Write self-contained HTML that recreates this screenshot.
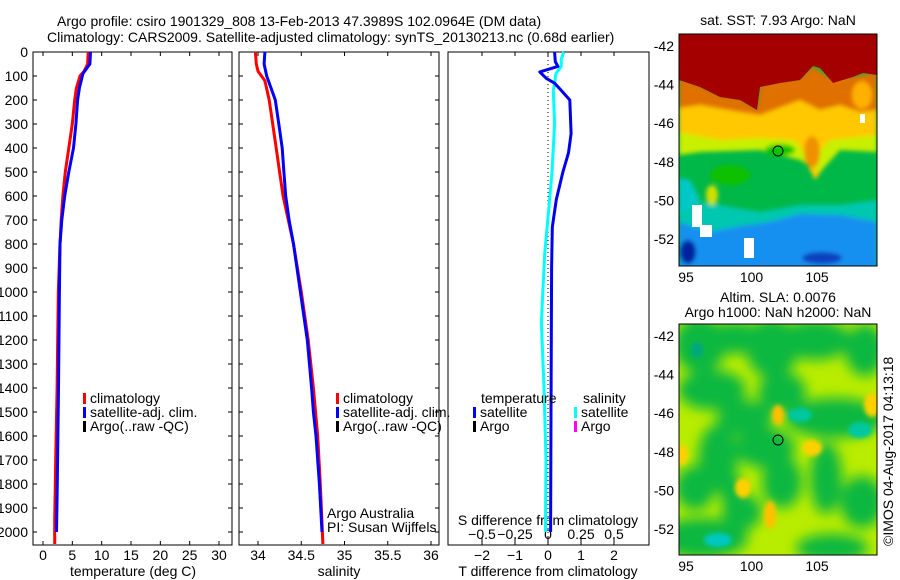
<!DOCTYPE html>
<html><head><meta charset="utf-8">
<style>
html,body{margin:0;padding:0;background:#fff;}
svg{display:block;font-family:"Liberation Sans",sans-serif;}
text{font-size:14px;fill:#000;}
</style></head>
<body>
<svg id="fig" width="900" height="580" viewBox="0 0 900 580">
<defs>
<filter id="blur2" x="-5%" y="-5%" width="110%" height="110%"><feGaussianBlur stdDeviation="2"/></filter>
<filter id="blur6" x="-10%" y="-10%" width="120%" height="120%"><feGaussianBlur stdDeviation="6"/></filter>
<clipPath id="c1"><rect x="679" y="34" width="198" height="232"/></clipPath>
<clipPath id="c2"><rect x="679" y="324" width="198" height="231"/></clipPath>
</defs>
<text x="57" y="26">Argo profile: csiro 1901329_808 13-Feb-2013 47.3989S 102.0964E (DM data)</text>
<text x="47" y="42">Climatology: CARS2009. Satellite-adjusted climatology: synTS_20130213.nc (0.68d earlier)</text>
<g id="axes"></g>
<g id="series"></g>

<!-- SST map -->
<g clip-path="url(#c1)">
<rect x="679" y="34" width="198" height="232" fill="#00b848"/>
<g filter="url(#blur2)">
<polygon points="679,200 720,205 760,212 800,205 840,205 877,200 877,270 679,270" fill="#00c8b0"/>
<polygon points="679,178 690,180 700,200 679,215" fill="#00c8c8"/>
<polygon points="679,222 710,232 740,226 770,222 800,214 840,215 877,222 877,270 679,270" fill="#1890f0"/>
<ellipse cx="688" cy="252" rx="8" ry="12" fill="#0020a0"/>
<ellipse cx="822" cy="258" rx="20" ry="6" fill="#1040c0"/>
<polygon points="679,80 757,110 800,80 877,75 877,145 840,145 815,180 800,150 760,145 720,150 679,150" fill="#ffc800"/>
<polygon points="679,132 720,140 760,138 795,140 810,160 830,140 877,135 877,152 840,150 820,172 800,160 760,150 700,152 679,155" fill="#c8f000"/>
<polygon points="679,78 700,85 720,95 740,98 757,108 760,85 780,80 800,78 813,66 833,80 877,72 877,110 860,112 840,105 820,110 800,100 760,115 740,112 700,105 679,108" fill="#e07000"/>
<ellipse cx="812" cy="152" rx="8" ry="16" fill="#f09000"/>
<ellipse cx="862" cy="95" rx="10" ry="14" fill="#ffb000"/>
<ellipse cx="712" cy="195" rx="6" ry="10" fill="#d0e000"/>
<ellipse cx="730" cy="175" rx="20" ry="10" fill="#10c000"/>
<ellipse cx="780" cy="150" rx="15" ry="6" fill="#00c800"/>
</g>
<polygon points="679,34 877,34 877,75 863,73 853,77 833,83 820,68 813,66 800,80 780,83 760,87 757,110 740,100 720,97 700,87 679,80" fill="#a50000"/>
<rect x="692" y="205" width="10" height="22" fill="#fff"/>
<rect x="700" y="225" width="12" height="12" fill="#fff"/>
<rect x="744" y="238" width="10" height="20" fill="#fff"/>
<rect x="860" y="114" width="5" height="9" fill="#fff"/>
<circle cx="778" cy="151" r="5" fill="none" stroke="#000"/>
</g>
<rect x="679" y="34" width="198" height="232" fill="none" stroke="#000"/>
<text x="778" y="25" text-anchor="middle">sat. SST: 7.93 Argo: NaN</text>

<!-- SLA map -->
<g clip-path="url(#c2)">
<rect x="679" y="324" width="198" height="231" fill="#b8ec00"/>
<g filter="url(#blur6)" fill="#10b840">
<ellipse cx="700" cy="345" rx="26" ry="28"/><ellipse cx="735" cy="338" rx="30" ry="16"/>
<ellipse cx="772" cy="348" rx="26" ry="30"/><ellipse cx="815" cy="340" rx="36" ry="20"/>
<ellipse cx="865" cy="350" rx="20" ry="26"/><ellipse cx="712" cy="390" rx="34" ry="20"/>
<ellipse cx="745" cy="418" rx="28" ry="18"/><ellipse cx="782" cy="392" rx="24" ry="20"/>
<ellipse cx="835" cy="418" rx="50" ry="20"/><ellipse cx="765" cy="448" rx="30" ry="20"/>
<ellipse cx="718" cy="458" rx="20" ry="34"/><ellipse cx="695" cy="488" rx="20" ry="22"/>
<ellipse cx="782" cy="482" rx="20" ry="26"/><ellipse cx="826" cy="478" rx="16" ry="36"/>
<ellipse cx="862" cy="502" rx="22" ry="26"/><ellipse cx="742" cy="512" rx="20" ry="18"/>
<ellipse cx="702" cy="538" rx="46" ry="20"/><ellipse cx="832" cy="548" rx="36" ry="14"/>
<ellipse cx="732" cy="492" rx="12" ry="18"/>
</g>
<g filter="url(#blur2)">
<ellipse cx="800" cy="415" rx="12" ry="7" fill="#00c8a0"/><ellipse cx="860" cy="430" rx="12" ry="8" fill="#00c8a0"/>
<ellipse cx="718" cy="540" rx="14" ry="7" fill="#00c8c0"/><ellipse cx="697" cy="350" rx="6" ry="8" fill="#00a880"/>
<ellipse cx="778" cy="415" rx="6" ry="10" fill="#ffc000"/><ellipse cx="743" cy="488" rx="8" ry="10" fill="#ffd000"/>
<ellipse cx="770" cy="515" rx="6" ry="14" fill="#ffc000"/><ellipse cx="812" cy="448" rx="10" ry="8" fill="#ffd000"/>
<ellipse cx="872" cy="405" rx="8" ry="12" fill="#ffd000"/><ellipse cx="682" cy="455" rx="6" ry="10" fill="#ffd000"/>
</g>
<circle cx="778" cy="440" r="5" fill="none" stroke="#000"/>
</g>
<rect x="679" y="324" width="198" height="231" fill="none" stroke="#000"/>
<text x="778" y="302" text-anchor="middle">Altim. SLA: 0.0076</text>
<text x="778" y="317" text-anchor="middle">Argo h1000: NaN h2000: NaN</text>
<text transform="translate(893,546) rotate(-90)">©IMOS 04-Aug-2017 04:13:18</text>
</svg>
<script>
// ---- data ----
const depthTicks=[0,100,200,300,400,500,600,700,800,900,1000,1100,1200,1300,1400,1500,1600,1700,1800,1900,2000];
const tempTicks=[0,5,10,15,20,25,30];
const salTicks=[34,34.5,35,35.5,36];
const tdiffTicks=[-2,-1,0,1,2];
const sdiffTicks=[-0.5,-0.25,0,0.25,0.5];
const sdiffLabels=["-0.5","-0.25","0","0.25","0.5"];
const tClimDepth=[0,50,80,100,150,200,300,400,500,600,700,800,1000,1200,1400,1650,1950,2050];
const tClimVal=[7.7,7.6,7.0,6.3,5.7,5.4,5.0,4.4,3.8,3.4,3.1,2.9,2.6,2.5,2.4,2.2,2.0,2.0];
const tSatDepth=[0,50,90,150,200,300,400,500,600,700,800,1000,1400,1850,2000];
const tSatVal=[8.1,8.0,6.8,6.2,5.9,5.6,5.2,4.4,3.7,3.2,2.9,2.8,2.65,2.4,2.3];
const sClimDepth=[0,50,80,120,200,300,400,500,600,700,800,1000,1200,1400,1600,1800,2050];
const sClimVal=[33.97,33.98,34.0,34.08,34.13,34.17,34.21,34.25,34.29,34.35,34.41,34.5,34.58,34.64,34.69,34.72,34.75];
const sSatDepth=[0,50,100,150,200,300,400,500,600,700,800,1000,1200,1400,1500,1600,1800,2000];
const sSatVal=[34.08,34.07,34.1,34.15,34.2,34.24,34.28,34.3,34.32,34.36,34.41,34.49,34.57,34.62,34.64,34.67,34.71,34.74];
const tDiffDepth=[0,40,60,83,110,130,160,200,340,420,500,615,730,900,1200,1500,2000];
const tDiffVal=[0.2,0.22,0.3,-0.25,-0.05,0.2,0.4,0.66,0.7,0.62,0.45,0.25,0.13,0.11,0.1,0.09,0.08];
const sDiffDepth=[0,30,60,90,130,160,300,500,690,840,1060,1130,1400,1700,2000];
const sDiffVal=[0.12,0.1,0.1,0.06,0.05,0.04,0.05,0.03,0.0,-0.025,-0.045,-0.05,-0.03,-0.015,-0.02];
// ---- scales ----
const yD=d=>52+d*0.24;
const xT=t=>43+t*5.867;
const xS=s=>258+(s-34)*86.5;
const xTd=t=>548+t*33;
const xSd=s=>548+s*132;
const NS="http://www.w3.org/2000/svg";
const ax=document.getElementById('axes'), se=document.getElementById('series');
function el(tag,attrs,parent,txt){const e=document.createElementNS(NS,tag);for(const k in attrs)e.setAttribute(k,attrs[k]);if(txt!==undefined)e.textContent=txt;parent.appendChild(e);return e;}
function frame(x0,x1,name){
  const r=el('rect',{x:x0,y:52,width:x1-x0,height:493,fill:'none',stroke:'#000','stroke-width':1},ax);
  
  
}
frame(33,232,'temperature-panel-frame');frame(239,439,'salinity-panel-frame');frame(448,649,'difference-panel-frame');
depthTicks.forEach(d=>{
  const y=yD(d);
  el('line',{x1:33,y1:y,x2:37,y2:y,stroke:'#000'},ax);
  el('line',{x1:228,y1:y,x2:232,y2:y,stroke:'#000'},ax);
  el('line',{x1:239,y1:y,x2:243,y2:y,stroke:'#000'},ax);
  el('line',{x1:435,y1:y,x2:439,y2:y,stroke:'#000'},ax);
  const t=el('text',{x:28,y:y+5,'text-anchor':'end'},ax,String(d));
  
  
});
function xticks(vals,fx,labels,yl){
  vals.forEach((v,i)=>{const x=fx(v);
    el('line',{x1:x,y1:52,x2:x,y2:56,stroke:'#000'},ax);
    el('line',{x1:x,y1:541,x2:x,y2:545,stroke:'#000'},ax);
    const t=el('text',{x:x,y:yl,'text-anchor':'middle'},ax,labels?labels[i]:String(v));
    
    
  });
}
xticks(tempTicks,xT,null,560);xticks(salTicks,xS,null,560);
tdiffTicks.forEach(v=>{const x=xTd(v);el('line',{x1:x,y1:52,x2:x,y2:56,stroke:'#000'},ax);el('line',{x1:x,y1:541,x2:x,y2:545,stroke:'#000'},ax);
  const t=el('text',{x:x,y:560,'text-anchor':'middle'},ax,String(v).replace('-','−'));
  
  });
sdiffTicks.forEach((v,i)=>{const x=xSd(v);el('line',{x1:x,y1:537,x2:x,y2:541,stroke:'#000'},ax);
  const t=el('text',{x:x,y:539,'text-anchor':'middle'},ax,sdiffLabels[i].replace('-','−'));
  
  });
[['temperature (deg C)',133,576,'temperature-axis-title'],['salinity',339,576,'salinity-axis-title'],['T difference from climatology',548,576,'t-diff-axis-title'],['S difference from climatology',548,525,'s-diff-axis-title']].forEach(a=>{
  const t=el('text',{x:a[1],y:a[2],'text-anchor':'middle'},ax,a[0]);
  
  });
function mapAxes(y0,y1,latY,name){
  [95,100,105].forEach(lo=>{const x=686+(lo-95)*13.1;el('line',{x1:x,y1:y1,x2:x,y2:y1-3,stroke:'#000'},ax);el('line',{x1:x,y1:y0,x2:x,y2:y0+3,stroke:'#000'},ax);
    const t=el('text',{x:x,y:y1+16,'text-anchor':'middle'},ax,String(lo));
    
    });
  [-42,-44,-46,-48,-50,-52].forEach(la=>{const y=latY+(-42-la)*19.3;el('line',{x1:877,y1:y,x2:874,y2:y,stroke:'#000'},ax);
    const t=el('text',{x:674,y:y+5,'text-anchor':'end'},ax,String(la));
    
    });
}
mapAxes(34,266,46,'sst-map');mapAxes(324,555,336,'sla-map');
function line(ds,vs,fx,color,w,name){
  const pts=ds.map((d,i)=>fx(vs[i]).toFixed(1)+','+yD(d).toFixed(1)).join(' ');
  const p=el('polyline',{points:pts,fill:'none',stroke:color,'stroke-width':w,'stroke-linejoin':'round'},se);
  
  
}
el('line',{x1:548,y1:52,x2:548,y2:545,stroke:'#000','stroke-dasharray':'1,3'},se);
line(tClimDepth,tClimVal,xT,'#ff0000',3,'temperature-climatology-line');
line(tSatDepth,tSatVal,xT,'#0000ff',3,'temperature-satellite-line');
line(sClimDepth,sClimVal,xS,'#ff0000',3,'salinity-climatology-line');
line(sSatDepth,sSatVal,xS,'#0000ff',3,'salinity-satellite-line');
line(sDiffDepth,sDiffVal,xSd,'#00ffff',3,'s-diff-satellite-line');
line(tDiffDepth,tDiffVal,xTd,'#0000ee',3,'t-diff-satellite-line');
function legend(x,y,items,name){
  items.forEach((it,i)=>{const yy=y+i*14;
    el('rect',{x:x,y:yy-10,width:3,height:11,fill:it[1]},se);
    const t=el('text',{x:x+7,y:yy},se,it[0]);
    
    });
}
legend(83,403,[['climatology','#ff0000'],['satellite-adj. clim.','#0000ff'],['Argo(..raw -QC)','#000']],'temperature-legend-entry');
legend(336,403,[['climatology','#ff0000'],['satellite-adj. clim.','#0000ff'],['Argo(..raw -QC)','#000']],'salinity-legend-entry');
legend(473,417,[['satellite','#0000ff'],['Argo','#000']],'t-diff-legend-entry');
legend(574,417,[['satellite','#00ffff'],['Argo','#ff00ff']],'s-diff-legend-entry');
[['temperature',481,403],['salinity',583,403],['Argo Australia',327,518],['PI: Susan Wijffels',327,532]].forEach(a=>{
  const t=el('text',{x:a[1],y:a[2]},se,a[0]);
  
  });
</script>
</body></html>
